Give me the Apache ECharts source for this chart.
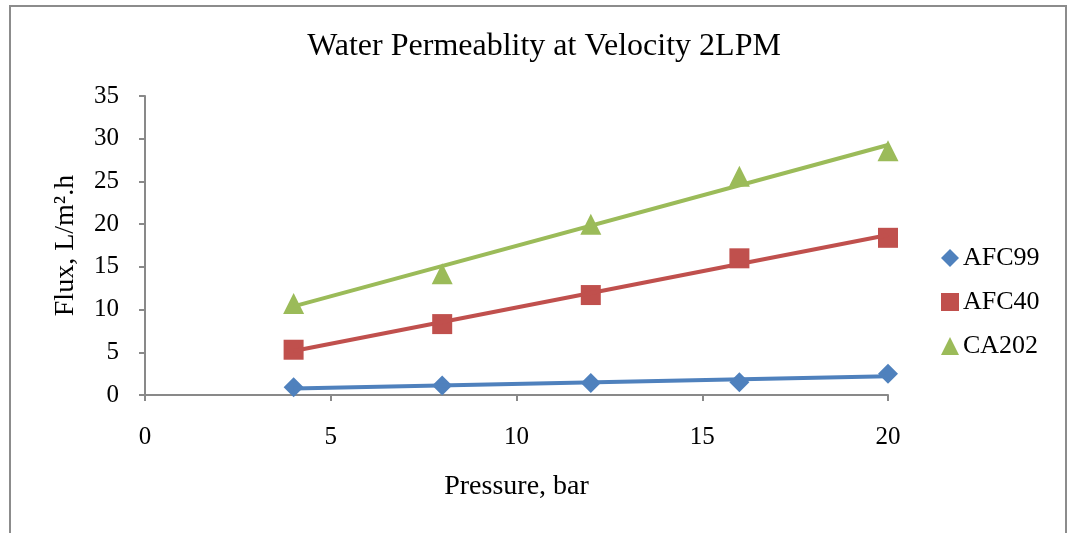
<!DOCTYPE html>
<html>
<head>
<meta charset="utf-8">
<script src="https://cdn.jsdelivr.net/npm/echarts@6/dist/echarts.min.js"></script>
<style>
  html, body { margin: 0; padding: 0; background: #fff; }
  #chart { width: 1069px; height: 533px; }
</style>
</head>
<body>
<div id="chart"></div>
<script>
// Applied pressure (bar)
const pressure = [4, 8, 12, 16, 20];
// Measured water flux (L/m².h) per membrane
const afc99 = [0.9, 1.1, 1.4, 1.5, 2.5];
const afc40 = [5.3, 8.3, 11.7, 16.0, 18.4];
const ca202 = [10.7, 14.2, 20.0, 25.6, 28.6];

const seriesNames = ['AFC99', 'AFC40', 'CA202'];
const seriesColors = ['#4F81BD', '#C0504D', '#9BBB59'];
const seriesSymbols = ['diamond', 'rect', 'triangle'];

const FONT = '"Liberation Serif", "Times New Roman", serif';

// Least-squares linear trendline evaluated at the first and last pressure
function trend(xs, ys) {
  const n = xs.length;
  const mx = xs.reduce((a, b) => a + b, 0) / n;
  const my = ys.reduce((a, b) => a + b, 0) / n;
  let sxy = 0, sxx = 0;
  for (let i = 0; i < n; i++) {
    sxy += (xs[i] - mx) * (ys[i] - my);
    sxx += (xs[i] - mx) * (xs[i] - mx);
  }
  const k = sxy / sxx, b = my - k * mx;
  const x0 = xs[0], x1 = xs[n - 1];
  return [[x0, k * x0 + b], [x1, k * x1 + b]];
}

const values = [afc99, afc40, ca202];
const series = [];
values.forEach((ys, i) => {
  series.push({
    name: seriesNames[i] + ' trend',
    type: 'line',
    data: trend(pressure, ys),
    showSymbol: false,
    symbol: 'none',
    silent: true,
    z: 3,
    lineStyle: { color: seriesColors[i], width: 4 }
  });
});
values.forEach((ys, i) => {
  series.push({
    name: seriesNames[i],
    type: 'scatter',
    data: pressure.map((x, j) => [x, ys[j]]),
    symbol: seriesSymbols[i],
    symbolSize: i === 2 ? 21 : 20,
    itemStyle: { color: seriesColors[i], opacity: 1 },
    z: 2
  });
});

const chart = echarts.init(document.getElementById('chart'), null, { renderer: 'canvas' });
chart.setOption({
  animation: false,
  backgroundColor: '#ffffff',
  title: {
    text: 'Water Permeablity at Velocity 2LPM',
    left: 539,
    textAlign: 'center',
    top: 26,
    textStyle: { fontFamily: FONT, fontSize: 32, fontWeight: 'normal', color: '#000' }
  },
  legend: {
    data: seriesNames,
    orient: 'vertical',
    left: 941,
    top: 245,
    padding: 0,
    itemWidth: 18,
    itemHeight: 18,
    itemGap: 18,
    textStyle: { fontFamily: FONT, fontSize: 26, color: '#000', padding: [0, 0, 0, -1] }
  },
  grid: { left: 145, right: 181, top: 96, bottom: 138 },
  xAxis: {
    type: 'value',
    min: 0, max: 20, interval: 5,
    name: 'Pressure, bar',
    nameLocation: 'middle',
    nameGap: 78,
    nameTextStyle: { fontFamily: FONT, fontSize: 28, color: '#000' },
    axisLine: { show: true, lineStyle: { color: '#898989', width: 2 } },
    axisTick: { show: true, length: 6, lineStyle: { color: '#898989', width: 2 } },
    axisLabel: { fontFamily: FONT, fontSize: 25, color: '#000', margin: 30 },
    splitLine: { show: false }
  },
  yAxis: {
    type: 'value',
    min: 0, max: 35, interval: 5,
    name: 'Flux, L/m\u00B2.h',
    nameLocation: 'middle',
    nameGap: 65,
    nameTextStyle: { fontFamily: FONT, fontSize: 28, color: '#000' },
    axisLine: { show: true, lineStyle: { color: '#898989', width: 2 } },
    axisTick: { show: true, length: 6, lineStyle: { color: '#898989', width: 2 } },
    axisLabel: { fontFamily: FONT, fontSize: 25, color: '#000', margin: 26 },
    splitLine: { show: false }
  },
  graphic: [{
    type: 'rect',
    shape: { x: 10, y: 6, width: 1056, height: 600 },
    style: { fill: 'none', stroke: '#8c8c8c', lineWidth: 2 },
    silent: true
  }],
  series: series
});
</script>
</body>
</html>
